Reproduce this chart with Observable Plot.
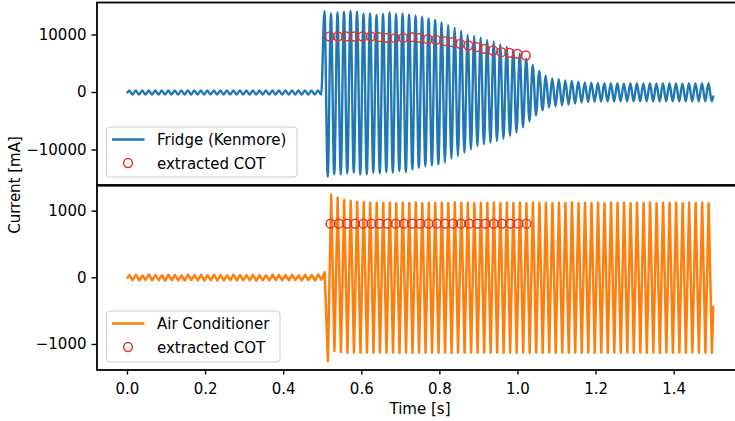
<!DOCTYPE html>
<html><head><meta charset="utf-8">
<script src="https://cdn.jsdelivr.net/npm/d3@7"></script>
<script src="https://cdn.jsdelivr.net/npm/@observablehq/plot@0.6"></script>
<style>
html,body{margin:0;padding:0;background:#fff;overflow:hidden;}
#wrap{position:relative;width:735px;height:421px;font-family:"DejaVu Sans";}
#wrap svg{position:absolute;left:0;top:0;max-width:none;}
#wrap [aria-label="y-axis tick"], #wrap [aria-label="x-axis tick"]{stroke-width:1.4px;}
</style></head><body><div id="wrap"></div>
<script>
// ---- data ----
const cyclePeriod = 0.016667;          // mains cycle (s), read from peak spacing
const fridgePhase = 0.0045;            // time of first fridge peak
const acPhase = 0.005;                 // time of first AC peak

// Fridge (Kenmore): positive peak of each cycle (mA)
const fridgePeaks = [
  370,370,370,370,370,370,370,370,370,370,370,370,370,370,370,
  370,370,370,370,370,370,370,370,370,370,370,370,370,370,370,
  14182,13764,13938,14060,14182,14060,13712,13764,13486,13660,
  13938,13660,13764,13590,13364,13190,12894,12616,12199,11747,
  11277,10703,10008,9834,9538,9138,8843,8373,7973,7399,
  6808,5939,4791,3748,2930,2461,2357,2113,2009,1887,
  1765,1700,1650,1620,1600,1600,1590,1600,1610,1590,
  1600,1590,1600,1610,1600,1590,1600,1600,1610,1600
];
// Fridge (Kenmore): negative trough of each cycle (mA)
const fridgeTroughs = [
  -370,-370,-370,-370,-370,-370,-370,-370,-370,-370,-370,-370,-370,-370,-370,
  -370,-370,-370,-370,-370,-370,-370,-370,-370,-370,-370,-370,-370,-370,-370,
  -14634,-14234,-14234,-14059,-13938,-14234,-14234,-13938,-14059,-13834,
  -13938,-13660,-13834,-13364,-13069,-12790,-12669,-12495,-12199,-11503,
  -11051,-10460,-9886,-9312,-9017,-8721,-8443,-8025,-7573,-6982,
  -6060,-5017,-3974,-3104,-2635,-2409,-2235,-2113,-1939,-1765,
  -1650,-1600,-1560,-1550,-1550,-1540,-1550,-1550,-1540,-1550,
  -1550,-1540,-1550,-1550,-1560,-1550,-1540,-1550,-1550,-1550
];
const fridgeEnd = -700;

// Air Conditioner: positive peak of each cycle (mA)
const acPeaks = [
  40,45,35,50,40,38,45,42,36,48,40,44,38,46,40,
  35,47,42,39,45,41,37,48,43,40,46,38,44,42,50,
  85,
  1242,1202,1167,1152,1142,1132,1127,1125,1120,1125,
  1118,1125,1120,1128,1118,1125,1120,1125,1118,1130,
  1120,1125,1118,1125,1120,1128,1118,1125,1120,1125,
  1118,1130,1120,1125,1118,1125,1120,1128,1118,1125,
  1120,1125,1118,1130,1120,1125,1118,1125,1120,1128,
  1118,1125,1120,1125,1118,1130,1120,1125,1118
];
// Air Conditioner: negative trough of each cycle (mA)
const acTroughs = [
  -35,-40,-32,-38,-36,-42,-34,-38,-40,-33,-37,-41,-35,-39,-36,
  -34,-40,-37,-35,-42,-36,-38,-34,-40,-37,-35,-39,-36,-38,-30,
  -1248,-1098,-1113,-1124,-1120,-1124,-1122,-1125,-1120,-1124,
  -1122,-1126,-1120,-1124,-1122,-1125,-1120,-1124,-1122,-1126,
  -1120,-1124,-1122,-1125,-1120,-1124,-1122,-1126,-1120,-1124,
  -1122,-1125,-1120,-1124,-1122,-1126,-1120,-1124,-1122,-1125,
  -1120,-1124,-1122,-1126,-1120,-1124,-1122,-1125,-1120,-1124,
  -1122,-1126,-1120,-1124,-1122,-1125,-1120,-1124,-1122,-1126
];
const acEnd = -440;

// extracted COT points
const fridgeCotTimes = [0.518,0.539,0.560,0.581,0.602,0.623,0.643,0.664,0.685,0.706,0.727,0.748,0.769,0.790,0.811,0.832,0.852,0.873,0.894,0.915,0.936,0.957,0.978,0.999,1.020];
const fridgeCotValues = [9738,9738,9738,9738,9738,9738,9617,9512,9443,9512,9617,9512,9269,9165,8921,8747,8469,8173,7878,7599,7304,7008,6904,6730,6434];
const acCotTimes = [0.520,0.541,0.562,0.583,0.604,0.625,0.645,0.666,0.687,0.708,0.729,0.750,0.771,0.792,0.813,0.834,0.854,0.875,0.896,0.917,0.938,0.959,0.980,1.001,1.022];
const acCotValues = [812,812,812,812,812,812,812,812,812,812,812,812,812,812,812,812,812,812,812,812,812,812,812,812,812];

const xTicks = [0, 0.2, 0.4, 0.6, 0.8, 1.0, 1.2, 1.4];
const fridgeYTicks = [-10000, 0, 10000];
const acYTicks = [-1000, 0, 1000];

// ---- build tables ----
function wave(peaks, troughs, phase, endValue) {
  const pts = [{t: 0, v: 0}];
  peaks.forEach((p, k) => {
    pts.push({t: phase + k * cyclePeriod, v: p});
    if (k < troughs.length) pts.push({t: phase + (k + 0.5) * cyclePeriod, v: troughs[k]});
  });
  pts.push({t: 1.5, v: endValue});
  return pts;
}
const fridge = wave(fridgePeaks, fridgeTroughs, fridgePhase, fridgeEnd);
const ac = wave(acPeaks, acTroughs, acPhase, acEnd);
const fridgeCot = fridgeCotTimes.map((t, i) => ({t, v: fridgeCotValues[i]}));
const acCot = acCotTimes.map((t, i) => ({t, v: acCotValues[i]}));

const BLUE = "#1f77b4", ORANGE = "#ff7f0e", RED = "#e3342c";
const W = 735, H = 421;
const xDomain = [-0.078, 1.575];
const common = {
  width: W, height: H, marginLeft: 96.5, marginRight: -7,
  style: {fontFamily: "DejaVu Sans", fontSize: "15px", color: "black", background: "transparent", overflow: "hidden"}
};

const topPlot = Plot.plot({
  ...common,
  marginTop: 2, marginBottom: H - 184.5,
  x: {domain: xDomain, axis: null},
  y: {domain: [-16087, 15652], ticks: fridgeYTicks, tickFormat: "d", tickSize: 5, tickPadding: 5.5, label: null},
  marks: [
    Plot.line(fridge, {x: "t", y: "v", stroke: BLUE, strokeWidth: 2.4, curve: "monotone-x"}),
    Plot.dot(fridgeCot, {x: "t", y: "v", r: 4.4, stroke: RED, strokeWidth: 1.5, fill: "none"}),
    Plot.frame({stroke: "black", strokeWidth: 1.8})
  ]
});

const bottomPlot = Plot.plot({
  ...common,
  marginTop: 185.2, marginBottom: H - 369.5,
  x: {domain: xDomain, ticks: xTicks, tickFormat: ".1f", tickSize: 5, tickPadding: 8, label: null},
  y: {domain: [-1383, 1381], ticks: acYTicks, tickFormat: "d", tickSize: 5, tickPadding: 5.5, label: null},
  marks: [
    Plot.line(ac, {x: "t", y: "v", stroke: ORANGE, strokeWidth: 2.5}),
    Plot.dot(acCot, {x: "t", y: "v", r: 4.4, stroke: RED, strokeWidth: 1.5, fill: "none"}),
    Plot.frame({stroke: "black", strokeWidth: 1.8})
  ]
});

const wrap = document.getElementById("wrap");
wrap.appendChild(topPlot);
wrap.appendChild(bottomPlot);

// ---- overlay: legends and axis titles ----
const ov = d3.select(wrap).append("svg")
  .attr("width", W).attr("height", H)
  .style("font-family", "DejaVu Sans").style("font-size", "15px");

function legend(x, y, w, h, color, label) {
  const g = ov.append("g");
  g.append("rect").attr("x", x).attr("y", y).attr("width", w).attr("height", h)
    .attr("rx", 3).attr("fill", "white").attr("fill-opacity", 0.8)
    .attr("stroke", "#cccccc").attr("stroke-width", 1);
  g.append("line").attr("x1", x + 5.5).attr("x2", x + 38).attr("y1", y + 12.5).attr("y2", y + 12.5)
    .attr("stroke", color).attr("stroke-width", 2.4);
  g.append("circle").attr("cx", x + 21.5).attr("cy", y + 36).attr("r", 4.4)
    .attr("fill", "none").attr("stroke", RED).attr("stroke-width", 1.5);
  g.append("text").attr("x", x + 50.5).attr("y", y + 18).attr("fill", "black").text(label);
  g.append("text").attr("x", x + 50.5).attr("y", y + 41.5).attr("fill", "black").text("extracted COT");
}
legend(106.5, 127, 190.5, 50, BLUE, "Fridge (Kenmore)");
legend(106.5, 311, 173.5, 51, ORANGE, "Air Conditioner");

ov.append("text").attr("transform", "translate(19.5,185) rotate(-90)")
  .attr("text-anchor", "middle").attr("fill", "black").text("Current [mA]");
ov.append("text").attr("x", 420).attr("y", 413.5)
  .attr("text-anchor", "middle").attr("fill", "black").text("Time [s]");
</script></body></html>
